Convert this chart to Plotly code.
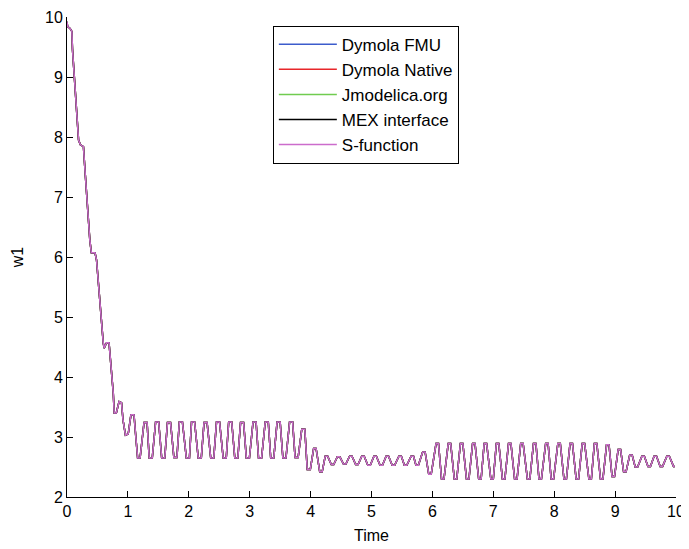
import plotly.graph_objects as go

# ---- data ----
series_names = ["Dymola FMU", "Dymola Native", "Jmodelica.org", "MEX interface", "S-function"]
series_colors = ["#3c5ccc", "#e8262a", "#70cc50", "#000000", "#cc6ccc"]

# initial transient
time_transient = [0.00, 0.01, 0.05, 0.08, 0.09, 0.115, 0.14, 0.17, 0.19, 0.22, 0.27, 0.295, 0.32,
                  0.35, 0.375, 0.40, 0.46, 0.485, 0.51, 0.54, 0.57, 0.595, 0.61, 0.65, 0.69, 0.70,
                  0.73, 0.76, 0.775, 0.81, 0.855, 0.895, 0.92, 0.96, 1.005, 1.05, 1.10, 1.13, 1.16, 1.20]
w1_transient = [9.92, 9.84, 9.81, 9.76, 9.46, 9.06, 8.62, 8.23, 7.95, 7.87, 7.84, 7.45, 7.03,
                6.62, 6.28, 6.07, 6.07, 5.95, 5.62, 5.23, 4.84, 4.57, 4.48, 4.57, 4.57, 4.40,
                4.09, 3.73, 3.40, 3.40, 3.59, 3.57, 3.28, 3.03, 3.05, 3.37, 3.37, 3.00, 2.65, 2.65]

# large oscillation, 1.2 .. 4.0
time_osc1 = [1.265, 1.315, 1.35, 1.40, 1.455, 1.505, 1.555, 1.605, 1.65, 1.70, 1.755, 1.805,
             1.845, 1.895, 1.96, 2.01, 2.045, 2.095, 2.155, 2.205, 2.25, 2.30, 2.36, 2.41,
             2.455, 2.505, 2.565, 2.615, 2.655, 2.705, 2.755, 2.805, 2.85, 2.90, 2.945, 2.995,
             3.055, 3.105, 3.145, 3.195, 3.255, 3.305, 3.345, 3.395, 3.45, 3.50, 3.545, 3.595,
             3.655, 3.705, 3.745, 3.795, 3.855, 3.905, 3.945, 3.995]
w1_osc1 = [3.24, 3.24, 2.65, 2.65, 3.25, 3.25, 2.65, 2.65, 3.24, 3.24, 2.66, 2.66,
           3.25, 3.25, 2.65, 2.65, 3.25, 3.25, 2.65, 2.65, 3.24, 3.24, 2.65, 2.65,
           3.25, 3.25, 2.65, 2.65, 3.25, 3.25, 2.65, 2.65, 3.24, 3.24, 2.65, 2.65,
           3.25, 3.25, 2.65, 2.65, 3.25, 3.25, 2.65, 2.65, 3.25, 3.25, 2.65, 2.65,
           3.25, 3.25, 2.66, 2.66, 3.13, 3.13, 2.46, 2.46]

# small oscillation, 4.0 .. 6.0
time_osc2 = [4.05, 4.09, 4.15, 4.19, 4.24, 4.28, 4.34, 4.38, 4.44, 4.48, 4.54, 4.58,
             4.64, 4.68, 4.74, 4.78, 4.84, 4.88, 4.94, 4.98, 5.04, 5.08, 5.14, 5.18,
             5.24, 5.28, 5.34, 5.38, 5.45, 5.49, 5.54, 5.58, 5.65, 5.69, 5.73, 5.77,
             5.84, 5.88, 5.94, 5.98]
w1_osc2 = [2.81, 2.81, 2.42, 2.42, 2.68, 2.68, 2.54, 2.54, 2.67, 2.67, 2.55, 2.55,
           2.68, 2.68, 2.54, 2.54, 2.68, 2.68, 2.53, 2.53, 2.68, 2.68, 2.53, 2.53,
           2.68, 2.68, 2.53, 2.53, 2.68, 2.68, 2.53, 2.53, 2.68, 2.68, 2.53, 2.53,
           2.75, 2.75, 2.38, 2.38]

# large oscillation, 6.0 .. 9.0
time_osc3 = [6.06, 6.10, 6.15, 6.19, 6.26, 6.30, 6.36, 6.40, 6.46, 6.50, 6.56, 6.60,
             6.66, 6.70, 6.76, 6.80, 6.85, 6.89, 6.96, 7.00, 7.05, 7.09, 7.15, 7.19,
             7.25, 7.29, 7.35, 7.39, 7.45, 7.49, 7.56, 7.60, 7.66, 7.70, 7.75, 7.79,
             7.86, 7.90, 7.95, 7.99, 8.06, 8.10, 8.16, 8.20, 8.26, 8.30, 8.36, 8.40,
             8.46, 8.50, 8.57, 8.61, 8.66, 8.70, 8.76, 8.80]
w1_osc3 = [2.89, 2.89, 2.30, 2.30, 2.89, 2.89, 2.30, 2.30, 2.89, 2.89, 2.30, 2.30,
           2.89, 2.89, 2.30, 2.30, 2.89, 2.89, 2.30, 2.30, 2.89, 2.89, 2.30, 2.30,
           2.89, 2.89, 2.30, 2.30, 2.89, 2.89, 2.30, 2.30, 2.89, 2.89, 2.30, 2.30,
           2.89, 2.89, 2.30, 2.30, 2.89, 2.89, 2.30, 2.30, 2.89, 2.89, 2.30, 2.30,
           2.89, 2.89, 2.30, 2.30, 2.89, 2.89, 2.30, 2.30]

# decaying tail, 9.0 .. 10.0
time_tail = [8.86, 8.90, 8.95, 8.99, 9.05, 9.09, 9.14, 9.18, 9.24, 9.28, 9.33, 9.37,
             9.44, 9.48, 9.54, 9.58, 9.64, 9.68, 9.74, 9.78, 9.85, 9.89, 9.96, 9.98]
w1_tail = [2.87, 2.87, 2.34, 2.34, 2.79, 2.79, 2.42, 2.42, 2.70, 2.70, 2.50, 2.50,
           2.68, 2.68, 2.51, 2.51, 2.68, 2.68, 2.51, 2.51, 2.68, 2.68, 2.51, 2.51]

x_ticks = [0, 1, 2, 3, 4, 5, 6, 7, 8, 9, 10]
y_ticks = [2, 3, 4, 5, 6, 7, 8, 9, 10]

time = time_transient + time_osc1 + time_osc2 + time_osc3 + time_tail
w1 = w1_transient + w1_osc1 + w1_osc2 + w1_osc3 + w1_tail

# ---- figure ----
font = dict(family="Liberation Sans, Arial, sans-serif", size=16, color="#000000")
legend_font = dict(family="Liberation Sans, Arial, sans-serif", size=17, color="#000000")

fig = go.Figure()
for name, color in zip(series_names, series_colors):
    fig.add_trace(go.Scatter(
        x=time, y=w1, mode="lines", name=name,
        line=dict(color=color, width=1.5),
    ))

# the page body has an 8px margin, so the figure is sized to fit inside the window
fig.update_layout(
    width=681, height=541,
    margin=dict(l=59, r=13, t=9, b=52),
    paper_bgcolor="white", plot_bgcolor="white",
    font=font,
    showlegend=True,
    legend=dict(
        x=0.338, y=0.982, xanchor="left", yanchor="top",
        bgcolor="white", bordercolor="#000000", borderwidth=1,
        itemwidth=58, font=legend_font,
    ),
)

axis_common = dict(
    ticks="inside", ticklen=6, tickwidth=1, tickcolor="#000000",
    showline=True, linecolor="#000000", linewidth=1,
    showgrid=False, zeroline=False, mirror=False,
    tickfont=font, automargin=False,
)
fig.update_xaxes(range=[0, 10], tickvals=x_ticks, title=dict(text="Time", font=font, standoff=10),
                 **axis_common)
fig.update_yaxes(range=[2, 10], tickvals=y_ticks, title=dict(text="w1", font=font, standoff=17),
                 **axis_common)

fig.write_html("out.html")
